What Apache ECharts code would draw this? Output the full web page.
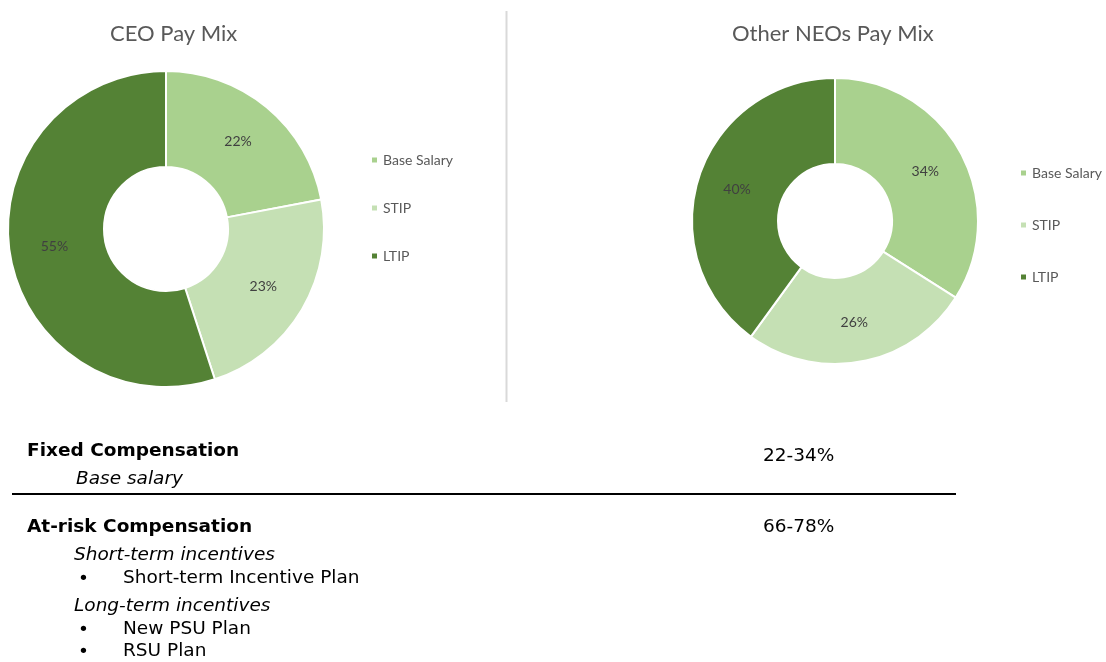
<!DOCTYPE html>
<html>
<head>
<meta charset="utf-8">
<script src="https://cdn.jsdelivr.net/npm/echarts@6/dist/echarts.min.js"></script>
<style>
  html, body { margin: 0; padding: 0; background: #fff; }
  #chart { width: 1106px; height: 662px; }
</style>
</head>
<body>
<div id="chart"></div>
<script>
// pay mix data
const categories = ['Base Salary', 'STIP', 'LTIP']
const ceoValues = [22, 23, 55]
const neoValues = [34, 26, 40]
const colors = ['#a9d18e', '#c5e0b4', '#548235']

// text block under the charts
const fixedRange = '22-34%'
const atRiskRange = '66-78%'

const chart = echarts.init(document.getElementById('chart'))

const toData = vals => vals.map((v, i) => ({name: categories[i], value: v}))

const pieBase = {
  type: 'pie',
  startAngle: 90,
  clockwise: true,
  avoidLabelOverlap: false,
  itemStyle: {borderColor: '#fff', borderWidth: 2},
  label: {
    position: 'inside',
    formatter: '{c}%',
    color: '#404040',
    fontFamily: 'Lato',
    fontSize: 14
  },
  labelLine: {show: false},
  emphasis: {scale: false}
}

const legendBase = {
  orient: 'vertical',
  icon: 'rect',
  itemWidth: 7,
  itemHeight: 7,
  data: categories,
  textStyle: {color: '#595959', fontFamily: 'Lato', fontSize: 14}
}

const txt = (x, y, text, font, extra) => ({
  type: 'text',
  x, y,
  style: Object.assign({
    text,
    font,
    fill: '#000',
    verticalAlign: 'middle'
  }, extra || {})
})

const bodyFont = '18.5px "DejaVu Sans"'
const boldFont = 'bold 18.5px "DejaVu Sans"'
const italFont = 'italic 18.5px "DejaVu Sans"'

const titleStyle = {color: '#595959', fontFamily: 'Lato', fontSize: 22, fontWeight: 'normal'}

chart.setOption({
  color: colors,
  animation: false,
  title: [
    {text: 'CEO Pay Mix', left: 105, top: 18, textStyle: titleStyle},
    {text: 'Other NEOs Pay Mix', left: 727, top: 18, textStyle: titleStyle}
  ],
  legend: [
    Object.assign({}, legendBase, {left: 365, top: 148, itemGap: 34}),
    Object.assign({}, legendBase, {left: 1014, top: 161, itemGap: 38})
  ],
  series: [
    Object.assign({}, pieBase, {
      name: 'CEO Pay Mix',
      center: [166, 229],
      radius: [62, 158],
      data: toData(ceoValues)
    }),
    Object.assign({}, pieBase, {
      name: 'Other NEOs Pay Mix',
      center: [835, 221],
      radius: [57, 143],
      data: toData(neoValues)
    })
  ],
  graphic: [
    {type: 'line', shape: {x1: 506.5, y1: 11, x2: 506.5, y2: 402},
      style: {stroke: '#d9d9d9', lineWidth: 2}},
    {type: 'line', shape: {x1: 12, y1: 494, x2: 956, y2: 494},
      style: {stroke: '#000', lineWidth: 2}},
    txt(27, 451, 'Fixed Compensation', boldFont),
    txt(76, 479, 'Base salary', italFont),
    txt(763, 456, fixedRange, bodyFont),
    txt(27, 527, 'At-risk Compensation', boldFont),
    txt(763, 527, atRiskRange, bodyFont),
    txt(74, 555, 'Short-term incentives', italFont),
    txt(78, 579, '•', bodyFont),
    txt(123, 578, 'Short-term Incentive Plan', bodyFont),
    txt(74, 606, 'Long-term incentives', italFont),
    txt(78, 630, '•', bodyFont),
    txt(123, 629, 'New PSU Plan', bodyFont),
    txt(78, 652, '•', bodyFont),
    txt(123, 651, 'RSU Plan', bodyFont)
  ]
})
</script>
</body>
</html>
